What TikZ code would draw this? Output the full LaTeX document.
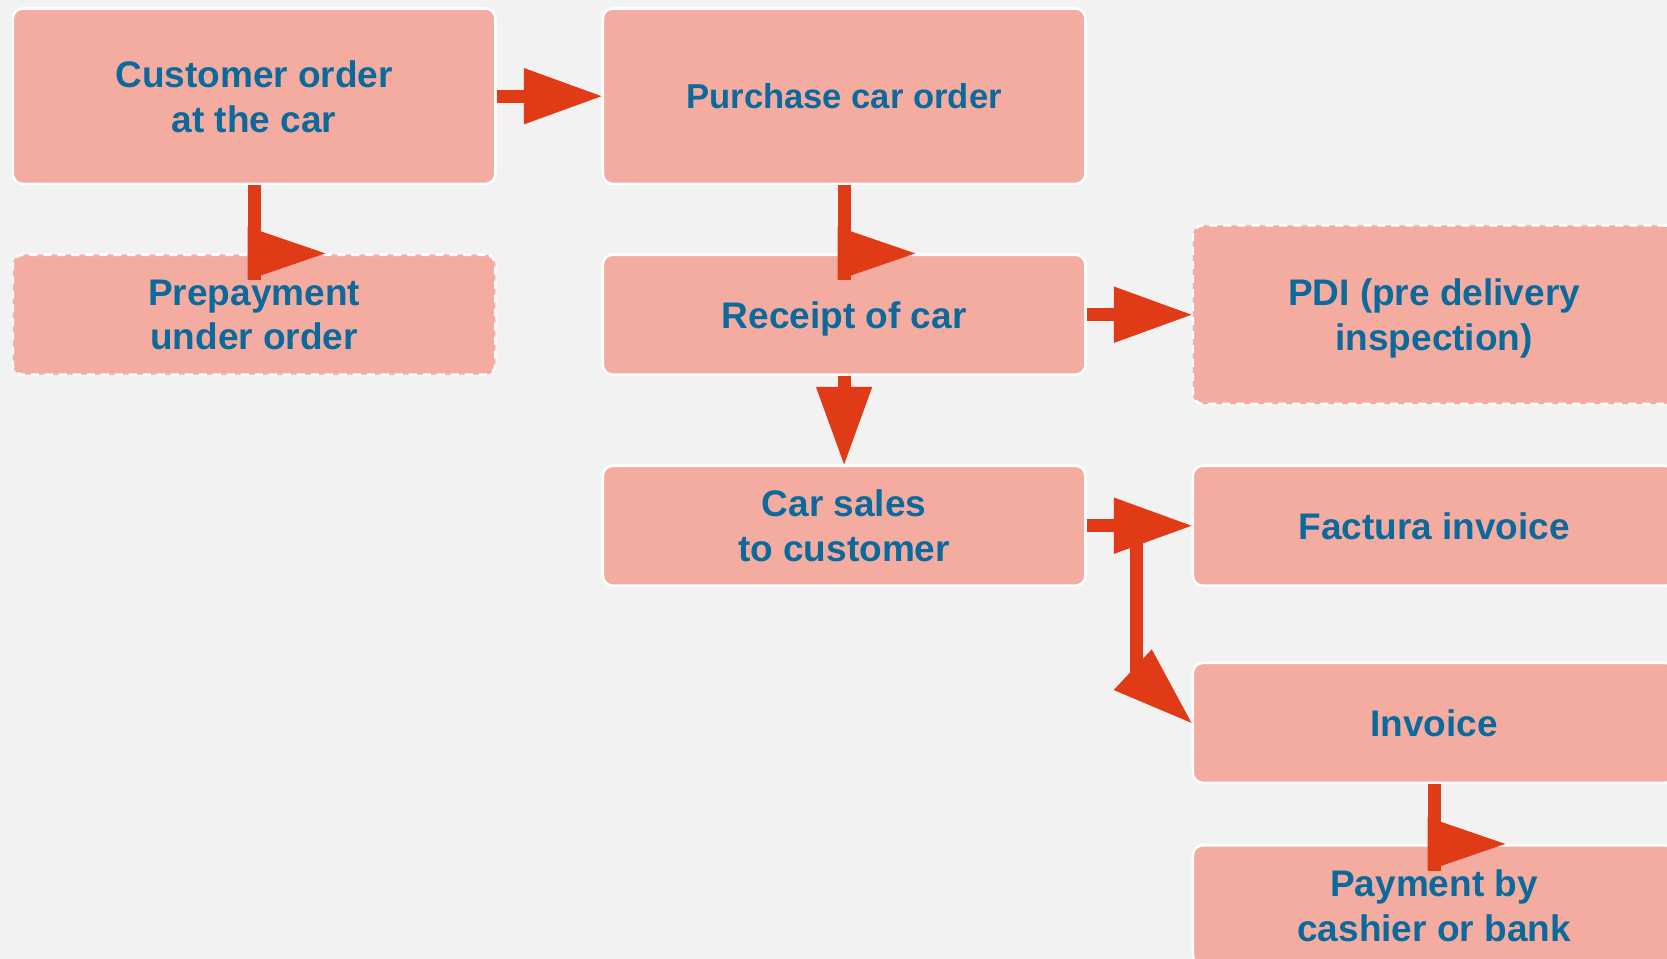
\documentclass[tikz,border=0pt]{standalone}
\usepackage{fontspec}
\setmainfont{Liberation Sans}
\usepackage{xcolor}
\usetikzlibrary{arrows.meta,calc}
\definecolor{bgcolor}{HTML}{F2F2F2}
\definecolor{boxfill}{HTML}{F5ACA0}
\definecolor{textblue}{HTML}{0B6A9B}
\definecolor{arrowred}{HTML}{E03A16}
\newcommand{\sidehead}[1]{\fill[arrowred] ($(#1)+(-6.4,-26.6)$) -- ($(#1)+(71.2,0)$) -- ($(#1)+(-6.4,26.6)$) -- cycle;}

\begin{document}
\begin{tikzpicture}[x=0.5pt, y=-0.5pt,
	stepbox/.style={draw=white, line width=1.3pt, fill=boxfill, rounded corners=5pt,
		minimum width=241.3pt, minimum height=60pt, inner sep=0pt, align=center, text depth=0pt,
		text=textblue, font=\fontsize{18.5}{22.4}\selectfont\bfseries},
	optbox/.style={stepbox, dash pattern=on 4pt off 3pt},
	shaft/.style={draw=arrowred, line width=6.4pt},
	flow/.style={shaft, -{Triangle[length=38.8pt, width=28.2pt, line width=0pt]}}]
			\fill[bgcolor] (0,0) rectangle (1667,959);
			\useasboundingbox (0,0) rectangle (1667,959);
			%   %   %   %   %   %   %   %   %   %   %
			%   Order column
				\node[stepbox, minimum height=87.7pt] (cust) at (254.1,96.2) {Customer order\\at the car};
				\node[optbox] (prepay) at (254.1,314.7) {Prepayment\\under order};
			%   %   %   %   %   %   %   %   %   %   %
			%   Car column
				\node[stepbox, minimum height=87.7pt, font=\fontsize{17.3}{21}\selectfont\bfseries] (purch) at (844.1,96.2) {Purchase car order};
				\node[stepbox] (receipt) at (844.1,314.7) {Receipt of car};
				\node[stepbox] (sales) at (844.1,525.7) {Car sales\\to customer};
			%   %   %   %   %   %   %   %   %   %   %
			%   Documents column
				\node[optbox, minimum height=89.3pt] (pdi) at (1434.1,314.7) {PDI (pre delivery\\inspection)};
				\node[stepbox] (factura) at (1434.1,525.7) {Factura invoice};
				\node[stepbox] (invoice) at (1434.1,722.9) {Invoice};
				\node[stepbox] (payment) at (1434.1,905.2) {Payment by\\cashier or bank};
			%   %   %   %   %   %   %   %   %   %   %
			%   Order -> Purchase, Prepayment
				\draw[flow] (cust.east) -- (purch.west);
				\draw[shaft] (cust.south) -- ($(prepay.north)+(0,26.6)$);
				\sidehead{prepay.north}
			%   %   %   %   %   %   %   %   %   %   %
			%   Purchase -> Receipt -> Sales, PDI
				\draw[shaft] (purch.south) -- ($(receipt.north)+(0,26.6)$);
				\sidehead{receipt.north}
				\draw[flow] (receipt.south) -- (sales.north);
				\draw[flow] (receipt.east) -- (pdi.west);
			%   %   %   %   %   %   %   %   %   %   %
			%   Sales -> Factura, Invoice
				\coordinate (bend) at ($(invoice.west)+(-55,-50)$);
				\draw[shaft] (sales.east -| bend) -- (bend);
				\fill[arrowred] ($(invoice.west)+(-77.8,-32.9)$) -- ($(invoice.west)+(-39.7,-73.6)$) -- (invoice.west) -- cycle;
				\draw[flow] (sales.east) -- (factura.west);
			%   %   %   %   %   %   %   %   %   %   %
			%   Invoice -> Payment
				\draw[shaft] (invoice.south) -- ($(payment.north)+(0,26.6)$);
				\sidehead{payment.north}
\end{tikzpicture}
\end{document}
